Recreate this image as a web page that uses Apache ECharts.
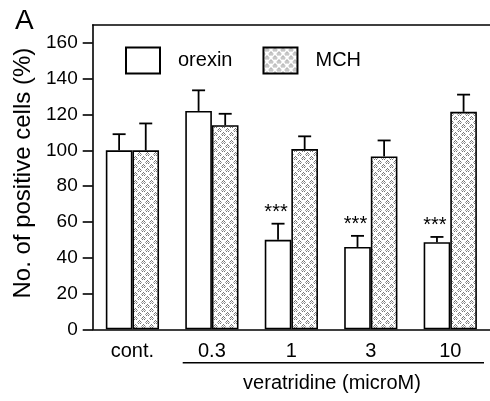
<!DOCTYPE html>
<html>
<head>
<meta charset="utf-8">
<script src="https://cdn.jsdelivr.net/npm/echarts@6/dist/echarts.min.js"></script>
<style>
html,body{margin:0;padding:0;background:#fff;}
#chart{width:490px;height:401px;}
</style>
</head>
<body>
<div id="chart"></div>
<script>
var categories = ['cont.', '0.3', '1', '3', '10'];
var orexin = [100, 122, 50, 46, 48.7];
var orexinErr = [9, 11.5, 9, 6.2, 2.9];
var mch = [100, 114, 100.7, 96.6, 121.5];
var mchErr = [15, 6.4, 7.1, 8.9, 9.6];
var stars = ['', '', '***', '***', '***'];
var yTicks = [0, 20, 40, 60, 80, 100, 120, 140, 160];

var FONT = '"Liberation Sans", Arial, Helvetica, sans-serif';

// texture tile for MCH bars
function makeTile() {
  var c = document.createElement('canvas');
  c.width = 8; c.height = 8;
  var g = c.getContext('2d');
  g.fillStyle = '#ffffff';
  g.fillRect(0, 0, 8, 8);
  var dark = '#767676', mid = '#a8a8a8';
  var pts = [
    [3,0,dark],[2,1,dark],[4,1,dark],[1,2,mid],[5,2,mid],[2,3,dark],[4,3,dark],[3,2,mid],
    [7,4,dark],[6,5,dark],[0,5,dark],[5,6,mid],[1,6,mid],[6,7,dark],[0,7,dark],[7,6,mid]
  ];
  pts.forEach(function (p) { g.fillStyle = p[2]; g.fillRect(p[0], p[1], 1, 1); });
  return c;
}
var tile = makeTile();

var BAR_FRAC = 0.335;

function errRender(sign) {
  return function (params, api) {
    var idx = api.value(0), v = api.value(1), e = api.value(2);
    var band = api.size([1, 0])[0];
    var off = sign * band * BAR_FRAC / 2;
    var p0 = api.coord([idx, v]);
    var p1 = api.coord([idx, v + e]);
    var x = p0[0] + off;
    var half = 6.5;
    var children = [
      {type: 'line', shape: {x1: x, y1: p0[1], x2: x, y2: p1[1]}, style: {stroke: '#000', lineWidth: 1.8}},
      {type: 'line', shape: {x1: x - half, y1: p1[1], x2: x + half, y2: p1[1]}, style: {stroke: '#000', lineWidth: 1.8}}
    ];
    var s = stars[idx];
    if (sign < 0 && s) {
      children.push({type: 'text', style: {text: s, x: x - 2, y: p1[1] - 21, align: 'center', verticalAlign: 'top', font: '20px ' + FONT, fill: '#000'}});
    }
    return {type: 'group', children: children};
  };
}

var chart = echarts.init(document.getElementById('chart'), null, {renderer: 'canvas'});
chart.setOption({
  animation: false,
  backgroundColor: '#fff',
  grid: {left: 92.7, top: 25, width: 403, height: 304.3},
  legend: {
    left: 125, top: 46.5, padding: 0,
    itemWidth: 34, itemHeight: 26, itemGap: 30,
    icon: 'rect',
    textStyle: {fontSize: 20, color: '#000', fontFamily: FONT, padding: [0, 0, 0, 13]},
    data: ['orexin', 'MCH']
  },
  xAxis: [{
    type: 'category', data: categories,
    axisLine: {lineStyle: {color: '#000', width: 1.6}},
    axisTick: {show: false},
    axisLabel: {fontSize: 20, color: '#000', fontFamily: FONT, margin: 12}
  }, {
    type: 'category', data: categories, position: 'top',
    axisLine: {lineStyle: {color: '#000', width: 1.6}},
    axisTick: {show: false}, axisLabel: {show: false}
  }],
  yAxis: {
    type: 'value', min: 0, max: 170, interval: 20,
    name: 'No. of positive cells (%)', nameLocation: 'middle', nameGap: 44,
    nameTextStyle: {fontSize: 24, color: '#000', fontFamily: FONT, padding: [0, 0, 0, 8]},
    axisLine: {show: true, lineStyle: {color: '#000', width: 1.6}},
    axisTick: {show: true, length: 10, customValues: yTicks, lineStyle: {color: '#000', width: 1.6}},
    axisLabel: {fontSize: 19, color: '#000', fontFamily: FONT, margin: 15, customValues: yTicks},
    splitLine: {show: false}
  },
  series: [{
    name: 'orexin', type: 'bar', data: orexin,
    barWidth: (BAR_FRAC * 100) + '%', barGap: '0%',
    itemStyle: {color: '#fff', borderColor: '#000', borderWidth: 1.6}
  }, {
    name: 'MCH', type: 'bar', data: mch,
    barWidth: (BAR_FRAC * 100) + '%', barGap: '0%',
    itemStyle: {color: {image: tile, repeat: 'repeat'}, borderColor: '#000', borderWidth: 1.6}
  }, {
    type: 'custom', renderItem: errRender(-1), z: 5,
    data: orexin.map(function (v, i) { return [i, v, orexinErr[i]]; })
  }, {
    type: 'custom', renderItem: errRender(1), z: 5,
    data: mch.map(function (v, i) { return [i, v, mchErr[i]]; })
  }],
  graphic: [
    {type: 'text', left: 15, top: 7, style: {text: 'A', font: '28px ' + FONT, fill: '#000'}},
    {type: 'line', shape: {x1: 182.7, y1: 362.7, x2: 484, y2: 362.7}, style: {stroke: '#000', lineWidth: 1.6}},
    {type: 'text', x: 332, y: 383, style: {text: 'veratridine (microM)', font: '20px ' + FONT, fill: '#000', align: 'center', verticalAlign: 'middle'}}
  ]
});
</script>
</body>
</html>
